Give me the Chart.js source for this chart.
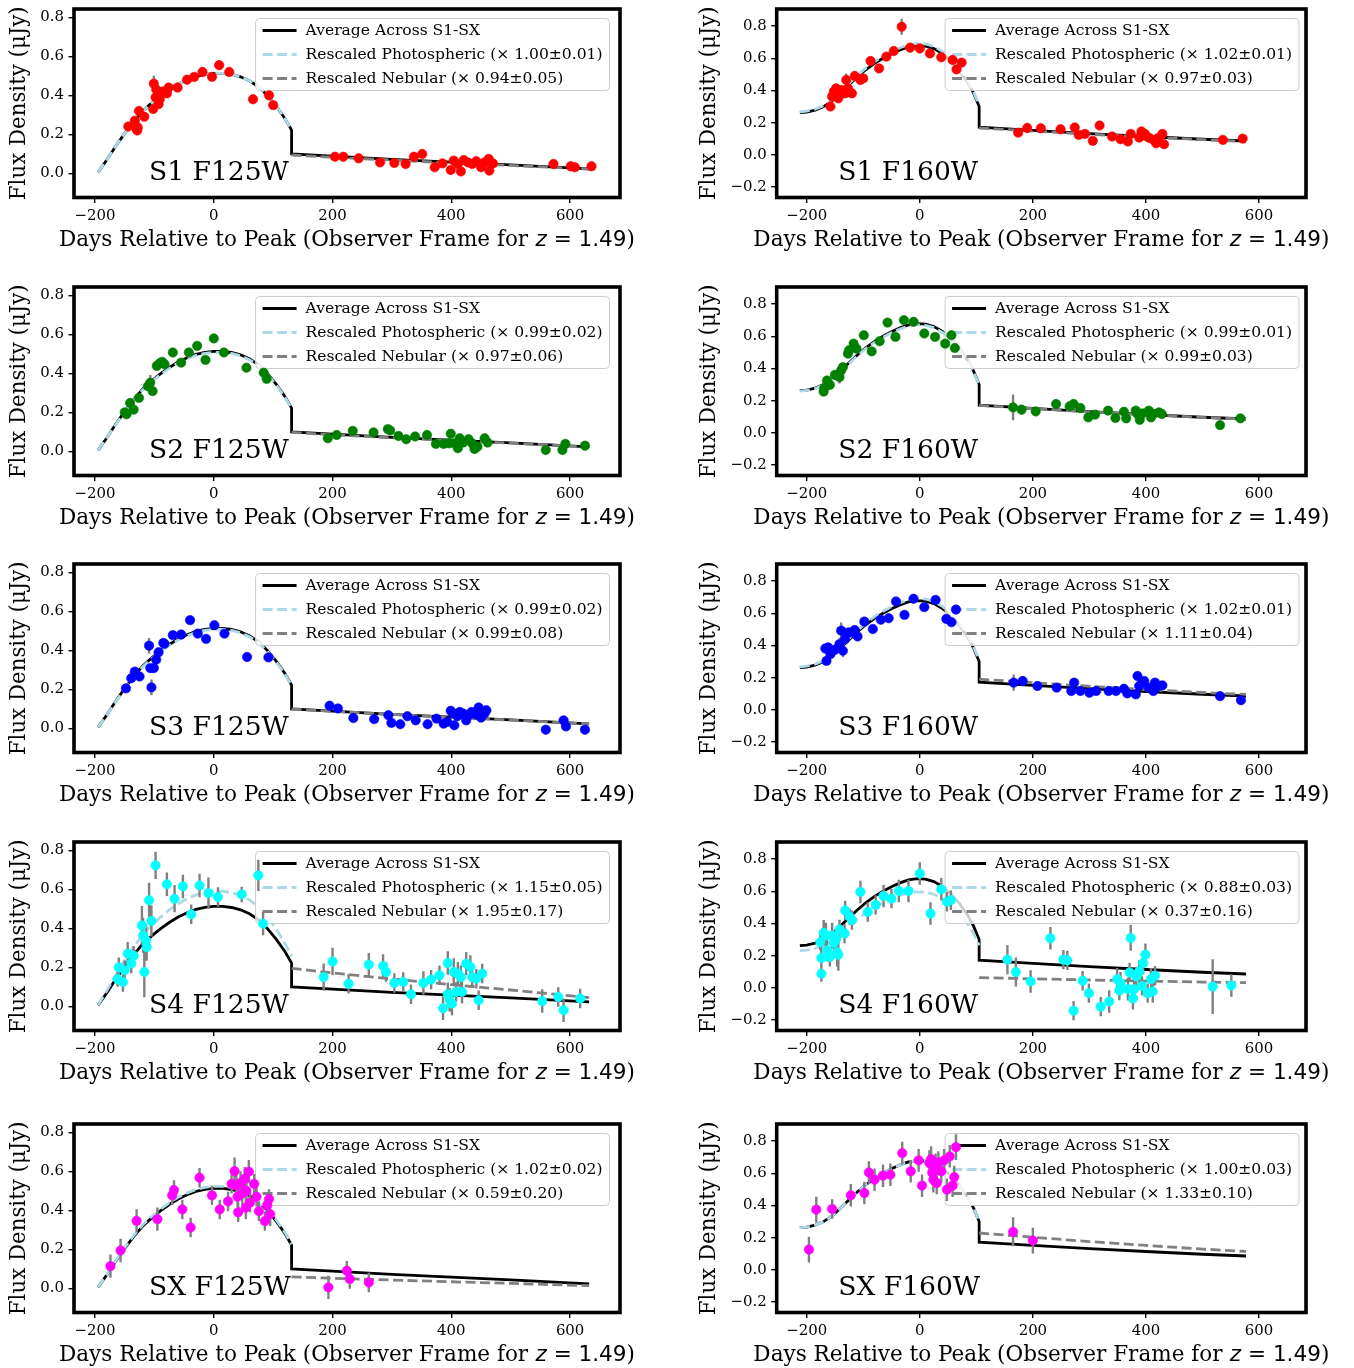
<!DOCTYPE html>
<html>
<head>
<meta charset="utf-8">
<script src="https://cdn.jsdelivr.net/npm/chart.js@4.4.0/dist/chart.umd.min.js"></script>
<style>
  html, body { margin: 0; padding: 0; background: #fff; }
  body { width: 1354px; height: 1368px; position: relative; overflow: hidden; }
  canvas { position: absolute; }
</style>
</head>
<body>
<script>
// ---- average light curves (black line), photospheric and nebular parts
const photDays125 = [-195, -180, -165, -150, -135, -120, -105, -90, -75, -60, -45, -30, -15, 0, 15, 30, 45, 60, 75, 90, 105, 120, 131];
const photFlux125 = [0.005, 0.07, 0.14, 0.205, 0.265, 0.318, 0.36, 0.397, 0.43, 0.458, 0.48, 0.497, 0.508, 0.513, 0.513, 0.507, 0.495, 0.475, 0.445, 0.40, 0.345, 0.28, 0.222];
const nebDays125 = [131, 200, 300, 400, 500, 632];
const nebFlux125 = [0.10, 0.088, 0.072, 0.057, 0.043, 0.023];

const photDays160 = [-212, -200, -185, -170, -155, -140, -125, -110, -95, -80, -65, -50, -35, -20, -5, 10, 25, 40, 55, 70, 85, 95, 105];
const photFlux160 = [0.262, 0.266, 0.278, 0.30, 0.335, 0.385, 0.435, 0.485, 0.53, 0.568, 0.60, 0.628, 0.652, 0.67, 0.678, 0.675, 0.66, 0.63, 0.585, 0.525, 0.45, 0.385, 0.30];
const nebDays160 = [105, 200, 300, 400, 500, 577];
const nebFlux160 = [0.172, 0.152, 0.132, 0.114, 0.097, 0.086];

// ---- panels (row-major: F125W left, F160W right)
const panelNames = ['S1 F125W', 'S1 F160W', 'S2 F125W', 'S2 F160W', 'S3 F125W', 'S3 F160W', 'S4 F125W', 'S4 F160W', 'SX F125W', 'SX F160W'];
const pointColors = ['#ff0000', '#ff0000', '#008000', '#008000', '#0000ff', '#0000ff', '#00ffff', '#00ffff', '#ff00ff', '#ff00ff'];
const photScale = [1.00, 1.02, 0.99, 0.99, 0.99, 1.02, 1.15, 0.88, 1.02, 1.00];
const photScaleErr = [0.01, 0.01, 0.02, 0.01, 0.02, 0.01, 0.05, 0.03, 0.02, 0.03];
const nebScale = [0.94, 0.97, 0.97, 0.99, 0.99, 1.11, 1.95, 0.37, 0.59, 1.33];
const nebScaleErr = [0.05, 0.03, 0.06, 0.03, 0.08, 0.04, 0.17, 0.16, 0.20, 0.10];

const xTicks = [-200, 0, 200, 400, 600];
const yTicks125 = [0, 0.2, 0.4, 0.6, 0.8];
const yTicks160 = [-0.2, 0, 0.2, 0.4, 0.6, 0.8];

// ---- observed photometry: days, flux, 1-sigma error
const s1f125Days = [-144, -133, -130, -129, -128, -126, -117, -102, -101, -98, -97, -93, -91, -86, -79, -76, -61, -45, -33, -19, -3, 9, 26, 66, 93, 100,
  204, 218, 244, 280, 304, 323, 337, 351, 372, 385, 399, 404, 411, 416, 421, 428, 435, 442, 450, 456, 463, 464, 470, 572, 601, 608, 636];
const s1f125Flux = [0.24, 0.27, 0.227, 0.22, 0.235, 0.32, 0.29, 0.33, 0.46, 0.39, 0.43, 0.355, 0.38, 0.42, 0.41, 0.44, 0.44, 0.48, 0.495, 0.52, 0.495, 0.555, 0.52, 0.38, 0.40, 0.35,
  0.085, 0.085, 0.077, 0.056, 0.053, 0.048, 0.085, 0.099, 0.031, 0.051, 0.017, 0.065, 0.048, 0.01, 0.068, 0.056, 0.048, 0.062, 0.031, 0.056, 0.074, 0.014, 0.051, 0.048, 0.036, 0.031, 0.036];
const s1f125Err = [0.02, 0.02, 0.02, 0.02, 0.03, 0.02, 0.02, 0.02, 0.04, 0.02, 0.02, 0.02, 0.02, 0.02, 0.02, 0.02, 0.02, 0.02, 0.02, 0.025, 0.02, 0.025, 0.02, 0.02, 0.02, 0.02,
  0.02, 0.02, 0.015, 0.015, 0.015, 0.015, 0.015, 0.015, 0.015, 0.015, 0.02, 0.02, 0.02, 0.025, 0.02, 0.015, 0.015, 0.02, 0.015, 0.015, 0.015, 0.02, 0.015, 0.02, 0.015, 0.015, 0.015];

const s2f125Days = [-150, -147, -141, -135, -126, -111, -107, -103, -96, -91, -87, -83, -69, -55, -42, -28, -14, 0, 17, 55, 84, 89,
  192, 207, 234, 269, 293, 297, 311, 324, 339, 359, 374, 387, 396, 399, 405, 411, 414, 420, 429, 435, 439, 444, 456, 461, 559, 587, 592, 625];
const s2f125Flux = [0.2, 0.19, 0.248, 0.214, 0.274, 0.334, 0.352, 0.309, 0.438, 0.452, 0.459, 0.447, 0.507, 0.455, 0.507, 0.541, 0.469, 0.579, 0.507, 0.429, 0.403, 0.372,
  0.067, 0.084, 0.105, 0.097, 0.114, 0.107, 0.079, 0.062, 0.076, 0.084, 0.038, 0.038, 0.041, 0.09, 0.041, 0.016, 0.067, 0.045, 0.062, 0.041, 0.012, 0.024, 0.067, 0.045, 0.007, 0.007, 0.038, 0.029];
const s2f125Err = [0.015, 0.015, 0.015, 0.015, 0.015, 0.02, 0.04, 0.02, 0.015, 0.015, 0.015, 0.015, 0.015, 0.015, 0.015, 0.015, 0.015, 0.02, 0.015, 0.015, 0.015, 0.015,
  0.012, 0.012, 0.012, 0.012, 0.012, 0.012, 0.012, 0.012, 0.012, 0.012, 0.012, 0.012, 0.012, 0.012, 0.012, 0.012, 0.012, 0.012, 0.012, 0.012, 0.012, 0.012, 0.012, 0.012, 0.012, 0.012, 0.012, 0.012];

const s3f125Days = [-148, -139, -133, -125, -109, -107, -105, -101, -97, -93, -85, -83, -69, -55, -40, -27, -13, 1, 18, 56, 92,
  195, 209, 235, 270, 294, 299, 314, 326, 340, 360, 375, 387, 393, 399, 402, 405, 410, 414, 420, 425, 429, 434, 441, 446, 450, 456, 459, 559, 589, 593, 625];
const s3f125Flux = [0.205, 0.257, 0.291, 0.266, 0.424, 0.309, 0.21, 0.309, 0.352, 0.39, 0.438, 0.434, 0.478, 0.481, 0.555, 0.486, 0.459, 0.529, 0.486, 0.366, 0.364,
  0.116, 0.102, 0.053, 0.047, 0.067, 0.028, 0.021, 0.062, 0.041, 0.021, 0.05, 0.024, 0.033, 0.09, 0.079, 0.016, 0.062, 0.084, 0.076, 0.041, 0.067, 0.084, 0.072, 0.107, 0.055, 0.076, 0.093, -0.007, 0.041, 0.01, -0.007];
const s3f125Err = [0.015, 0.015, 0.015, 0.015, 0.04, 0.02, 0.04, 0.02, 0.015, 0.015, 0.015, 0.015, 0.015, 0.015, 0.015, 0.015, 0.015, 0.02, 0.02, 0.015, 0.015,
  0.012, 0.012, 0.012, 0.012, 0.012, 0.012, 0.012, 0.012, 0.012, 0.012, 0.012, 0.012, 0.012, 0.012, 0.012, 0.012, 0.012, 0.012, 0.012, 0.012, 0.012, 0.012, 0.012, 0.012, 0.012, 0.012, 0.012, 0.012, 0.012, 0.012, 0.012];

const s4f125Days = [-162, -160, -153, -150, -145, -139, -135, -121, -119, -117, -114, -113, -109, -105, -98, -79, -66, -52, -38, -24, -9, 7, 47, 75, 83,
  185, 200, 227, 261, 285, 290, 304, 319, 332, 353, 366, 380, 386, 394, 394, 397, 401, 404, 408, 411, 416, 418, 425, 432, 435, 442, 446, 452, 553, 580, 589, 617];
const s4f125Flux = [0.14, 0.2, 0.125, 0.185, 0.27, 0.22, 0.26, 0.415, 0.364, 0.176, 0.338, 0.304, 0.544, 0.438, 0.723, 0.626, 0.552, 0.615, 0.472, 0.62, 0.581, 0.561, 0.574, 0.672, 0.424,
  0.15, 0.23, 0.116, 0.214, 0.207, 0.176, 0.12, 0.125, 0.062, 0.12, 0.137, 0.159, -0.01, 0.222, 0.062, 0.034, 0.014, 0.176, 0.074, 0.168, 0.15, 0.074, 0.219, 0.202, 0.15, 0.142, 0.031, 0.168, 0.027, 0.048, -0.02, 0.04];
const s4f125Err = [0.04, 0.05, 0.05, 0.05, 0.06, 0.05, 0.05, 0.1, 0.09, 0.13, 0.08, 0.07, 0.09, 0.08, 0.07, 0.06, 0.07, 0.06, 0.05, 0.06, 0.08, 0.05, 0.04, 0.08, 0.06,
  0.07, 0.07, 0.05, 0.06, 0.06, 0.05, 0.05, 0.05, 0.05, 0.06, 0.05, 0.05, 0.06, 0.06, 0.06, 0.06, 0.06, 0.07, 0.05, 0.06, 0.06, 0.06, 0.06, 0.06, 0.05, 0.05, 0.05, 0.05, 0.06, 0.05, 0.06, 0.05];

const sxf125Days = [-174, -157, -130, -95, -70, -67, -53, -39, -24, -3, 10, 24, 30, 35, 38, 40, 41, 45, 48, 52, 54, 55, 59, 61, 68, 72, 76, 86, 90, 93, 95,
  193, 224, 229, 261];
const sxf125Flux = [0.114, 0.194, 0.346, 0.355, 0.477, 0.504, 0.405, 0.312, 0.567, 0.477, 0.405, 0.446, 0.536, 0.601, 0.528, 0.47, 0.39, 0.54, 0.487, 0.562, 0.414, 0.5, 0.598, 0.44, 0.536, 0.47, 0.396, 0.345, 0.428, 0.458, 0.38,
  0.005, 0.09, 0.048, 0.03];
const sxf125Err = [0.06, 0.06, 0.06, 0.06, 0.05, 0.05, 0.05, 0.05, 0.05, 0.05, 0.05, 0.05, 0.05, 0.07, 0.07, 0.05, 0.05, 0.06, 0.06, 0.06, 0.06, 0.06, 0.06, 0.05, 0.05, 0.05, 0.05, 0.05, 0.05, 0.05, 0.06,
  0.06, 0.05, 0.05, 0.05];

const s1f160Days = [-158, -155, -152, -148, -144, -139, -132, -130, -127, -120, -115, -105, -100, -87, -72, -59, -46, -32, -17, 0, 18, 38, 58, 65, 74,
  174, 190, 214, 249, 274, 281, 292, 306, 318, 340, 355, 368, 373, 388, 392, 398, 401, 407, 414, 418, 421, 429, 432, 536, 571];
const s1f160Flux = [0.3, 0.362, 0.393, 0.413, 0.351, 0.403, 0.382, 0.465, 0.413, 0.382, 0.49, 0.465, 0.475, 0.583, 0.537, 0.61, 0.645, 0.796, 0.666, 0.661, 0.63, 0.606, 0.589, 0.531, 0.573,
  0.138, 0.167, 0.165, 0.159, 0.17, 0.124, 0.13, 0.087, 0.182, 0.114, 0.097, 0.083, 0.13, 0.107, 0.145, 0.13, 0.114, 0.103, 0.093, 0.072, 0.103, 0.13, 0.066, 0.093, 0.101];
const s1f160Err = [0.02, 0.02, 0.02, 0.02, 0.02, 0.02, 0.02, 0.04, 0.03, 0.02, 0.03, 0.02, 0.02, 0.025, 0.025, 0.02, 0.02, 0.05, 0.03, 0.03, 0.02, 0.02, 0.02, 0.02, 0.02,
  0.015, 0.03, 0.02, 0.02, 0.015, 0.015, 0.015, 0.015, 0.015, 0.015, 0.015, 0.015, 0.02, 0.015, 0.03, 0.015, 0.015, 0.015, 0.015, 0.015, 0.015, 0.02, 0.015, 0.015, 0.015];

const s2f160Days = [-170, -169, -164, -159, -150, -142, -139, -136, -127, -125, -117, -112, -99, -85, -71, -57, -43, -28, -11, 8, 27, 45, 56, 62,
  165, 180, 205, 241, 265, 272, 284, 298, 310, 333, 346, 361, 365, 382, 385, 389, 394, 405, 409, 413, 423, 428, 531, 567];
const s2f160Flux = [0.256, 0.277, 0.325, 0.298, 0.36, 0.346, 0.388, 0.408, 0.492, 0.513, 0.554, 0.523, 0.606, 0.506, 0.569, 0.685, 0.596, 0.7, 0.69, 0.617, 0.596, 0.554, 0.606, 0.527,
  0.158, 0.144, 0.133, 0.179, 0.165, 0.179, 0.154, 0.096, 0.113, 0.138, 0.092, 0.131, 0.09, 0.138, 0.117, 0.081, 0.121, 0.138, 0.096, 0.117, 0.127, 0.117, 0.048, 0.09];
const s2f160Err = [0.02, 0.02, 0.02, 0.02, 0.03, 0.04, 0.03, 0.02, 0.02, 0.02, 0.02, 0.02, 0.02, 0.02, 0.02, 0.025, 0.02, 0.025, 0.02, 0.02, 0.02, 0.02, 0.02, 0.02,
  0.08, 0.03, 0.02, 0.015, 0.015, 0.015, 0.015, 0.015, 0.015, 0.015, 0.015, 0.015, 0.015, 0.015, 0.015, 0.015, 0.015, 0.015, 0.015, 0.015, 0.015, 0.015, 0.015, 0.015];

const s3f160Days = [-167, -165, -162, -158, -150, -142, -139, -136, -132, -126, -121, -115, -110, -98, -83, -69, -55, -42, -27, -11, 8, 28, 47, 56, 64,
  166, 182, 208, 242, 268, 273, 284, 300, 312, 334, 347, 361, 367, 382, 385, 388, 394, 397, 405, 413, 416, 420, 429, 531, 568];
const s3f160Flux = [0.381, 0.304, 0.388, 0.346, 0.373, 0.408, 0.492, 0.367, 0.44, 0.481, 0.481, 0.496, 0.456, 0.548, 0.502, 0.56, 0.569, 0.673, 0.59, 0.69, 0.638, 0.683, 0.565, 0.544, 0.623,
  0.169, 0.179, 0.148, 0.138, 0.117, 0.169, 0.117, 0.106, 0.117, 0.117, 0.117, 0.131, 0.102, 0.096, 0.21, 0.148, 0.169, 0.179, 0.138, 0.117, 0.169, 0.144, 0.152, 0.085, 0.06];
const s3f160Err = [0.02, 0.02, 0.02, 0.02, 0.03, 0.04, 0.05, 0.04, 0.03, 0.02, 0.02, 0.02, 0.02, 0.03, 0.02, 0.02, 0.02, 0.02, 0.025, 0.025, 0.02, 0.02, 0.02, 0.02, 0.02,
  0.05, 0.03, 0.02, 0.015, 0.015, 0.015, 0.015, 0.015, 0.015, 0.015, 0.015, 0.015, 0.015, 0.015, 0.02, 0.015, 0.015, 0.02, 0.015, 0.015, 0.015, 0.015, 0.015, 0.03, 0.015];

const s4f160Days = [-176, -174, -174, -170, -166, -164, -159, -155, -152, -148, -146, -144, -142, -133, -132, -124, -120, -105, -92, -78, -64, -50, -37, -20, 0, 19, 38, 48, 55,
  155, 170, 196, 231, 254, 261, 272, 288, 299, 320, 335, 349, 353, 355, 368, 371, 373, 377, 379, 383, 388, 393, 395, 399, 403, 409, 412, 416, 518, 551];
const s4f160Flux = [0.283, 0.185, 0.0875, 0.342, 0.325, 0.233, 0.192, 0.325, 0.279, 0.304, 0.221, 0.206, 0.363, 0.337, 0.481, 0.442, 0.421, 0.596, 0.471, 0.515, 0.571, 0.554, 0.602, 0.602, 0.71, 0.462, 0.612, 0.535, 0.544,
  0.175, 0.098, 0.04, 0.308, 0.175, 0.171, -0.142, 0.044, -0.033, -0.117, -0.085, 0.054, -0.017, 0.029, -0.008, 0.096, 0.31, -0.065, -0.008, 0.071, 0.102, 0.0125, 0.154, 0.206, -0.033, 0.054, -0.023, 0.075, 0.008, 0.015];
const s4f160Err = [0.05, 0.07, 0.05, 0.08, 0.08, 0.07, 0.06, 0.08, 0.07, 0.07, 0.09, 0.1, 0.06, 0.06, 0.06, 0.05, 0.06, 0.07, 0.06, 0.06, 0.07, 0.06, 0.07, 0.07, 0.07, 0.07, 0.07, 0.06, 0.06,
  0.09, 0.09, 0.07, 0.07, 0.06, 0.06, 0.06, 0.06, 0.06, 0.06, 0.07, 0.07, 0.06, 0.07, 0.07, 0.06, 0.08, 0.07, 0.07, 0.06, 0.07, 0.06, 0.07, 0.07, 0.06, 0.07, 0.07, 0.06, 0.17, 0.07];

const sxf160Days = [-196, -183, -155, -122, -98, -90, -80, -65, -52, -31, -16, -2, 4, 17, 20, 22, 24, 28, 30, 33, 38, 43, 48, 53, 58, 61, 64,
  165, 200];
const sxf160Flux = [0.126, 0.374, 0.378, 0.463, 0.477, 0.605, 0.56, 0.585, 0.591, 0.725, 0.612, 0.68, 0.523, 0.663, 0.688, 0.605, 0.56, 0.653, 0.539, 0.667, 0.612, 0.68, 0.498, 0.705, 0.523, 0.576, 0.762,
  0.236, 0.182];
const sxf160Err = [0.08, 0.08, 0.06, 0.07, 0.07, 0.07, 0.07, 0.07, 0.07, 0.07, 0.07, 0.07, 0.07, 0.08, 0.08, 0.08, 0.08, 0.07, 0.07, 0.07, 0.07, 0.07, 0.07, 0.07, 0.07, 0.07, 0.08,
  0.09, 0.08];

const obsDays = [s1f125Days, s1f160Days, s2f125Days, s2f160Days, s3f125Days, s3f160Days, s4f125Days, s4f160Days, sxf125Days, sxf160Days];
const obsFlux = [s1f125Flux, s1f160Flux, s2f125Flux, s2f160Flux, s3f125Flux, s3f160Flux, s4f125Flux, s4f160Flux, sxf125Flux, sxf160Flux];
const obsErr = [s1f125Err, s1f160Err, s2f125Err, s2f160Err, s3f125Err, s3f160Err, s4f125Err, s4f160Err, sxf125Err, sxf160Err];

// ---- fonts, sized so the text spans what it spans in the figure
const SERIF = "'DejaVu Serif', serif";
const SANS = "'DejaVu Sans', sans-serif";
const mctx = document.createElement('canvas').getContext('2d');
function fitSize(text, target, family, style) {
  mctx.font = (style || '') + ' 100px ' + family;
  return 100 * target / mctx.measureText(text).width;
}
const tickSize = fitSize('\u2212200', 41, SERIF);
const yTitleSize = fitSize('Flux Density (\u03bcJy)', 194, SERIF);
const legendSize = fitSize('Rescaled Photospheric (\u00d7 1.00\u00b10.01)', 297, SERIF);
const tagSize = fitSize('S1 F125W', 140, SERIF);

const xLabelParts = [
  {t: 'Days Relative to Peak (Observer Frame for ', fam: SERIF, st: ''},
  {t: 'z', fam: SANS, st: 'italic'},
  {t: ' = 1.49', fam: SANS, st: ''},
  {t: ')', fam: SERIF, st: ''}
];
let xLabelW100 = 0;
xLabelParts.forEach(p => { mctx.font = p.st + ' 100px ' + p.fam; p.w = mctx.measureText(p.t).width; xLabelW100 += p.w; });
const xLabelScale = 576 / xLabelW100;

function drawXLabel(ctx, cx, cy) {
  let x = cx - 288;
  ctx.textAlign = 'left';
  ctx.textBaseline = 'middle';
  xLabelParts.forEach(p => {
    ctx.font = p.st + ' ' + (100 * xLabelScale) + 'px ' + p.fam;
    ctx.fillText(p.t, x, cy);
    x += p.w * xLabelScale;
  });
}

function drawLegend(chart, gapRight) {
  const ctx = chart.ctx, ca = chart.chartArea;
  const items = [4, 3, 2].map(i => chart.data.datasets[i]);
  ctx.save();
  ctx.font = legendSize + 'px ' + SERIF;
  const textW = Math.max(...items.map(d => ctx.measureText(d.label).width));
  const w = 7 + 34 + 9 + textW + 7, h = 72;
  const x0 = ca.right - gapRight - w, y0 = ca.top + 9.5;
  ctx.beginPath();
  ctx.roundRect(x0, y0, w, h, 4);
  ctx.fillStyle = 'rgba(255,255,255,0.8)';
  ctx.fill();
  ctx.strokeStyle = '#cccccc';
  ctx.lineWidth = 1;
  ctx.stroke();
  items.forEach((d, j) => {
    const cy = y0 + 12 + 24 * j;
    ctx.strokeStyle = d.borderColor;
    ctx.lineWidth = d.borderWidth;
    ctx.setLineDash(d.borderDash || []);
    ctx.beginPath();
    ctx.moveTo(x0 + 7, cy);
    ctx.lineTo(x0 + 41, cy);
    ctx.stroke();
    ctx.setLineDash([]);
    ctx.fillStyle = '#000';
    ctx.textAlign = 'left';
    ctx.textBaseline = 'middle';
    ctx.fillText(d.label, x0 + 50, cy);
  });
  ctx.restore();
}

const panelDecor = {
  id: 'panelDecor',
  beforeDatasetDraw(chart, args, opts) {
    if (args.index === 1) drawLegend(chart, opts.legendGap);   // legend sits above the curves, below the data
  },
  afterDraw(chart, args, opts) {
    const ctx = chart.ctx, ca = chart.chartArea;
    ctx.save();
    ctx.strokeStyle = '#000';
    ctx.lineWidth = 3.6;
    ctx.strokeRect(ca.left, ca.top, ca.right - ca.left, ca.bottom - ca.top);
    ctx.fillStyle = '#000';
    ctx.font = tagSize + 'px ' + SERIF;
    ctx.textAlign = 'left';
    ctx.textBaseline = 'alphabetic';
    ctx.fillText(opts.tag, ca.left + opts.tagDx, ca.bottom - 18);
    drawXLabel(ctx, (ca.left + ca.right) / 2, ca.bottom + 43);
    ctx.restore();
  }
};

const fmt = (v, digits) => (v < 0 ? '\u2212' : '') + Math.abs(v).toFixed(digits);

const rowTop = [0, 278, 555, 833, 1115];
const columns = [
  {x: 0, width: 640, left: 74, right: 620, xMin: -235.4, xMax: 684, yMin: -0.124, yMax: 0.843, yTicks: yTicks125, tagDx: 75, legendGap: 10.5,
   photDays: photDays125, photFlux: photFlux125, nebDays: nebDays125, nebFlux: nebFlux125},
  {x: 690, width: 664, left: 86.7, right: 616, xMin: -253, xMax: 683, yMin: -0.265, yMax: 0.906, yTicks: yTicks160, tagDx: 61.5, legendGap: 7,
   photDays: photDays160, photFlux: photFlux160, nebDays: nebDays160, nebFlux: nebFlux160}
];
const AREA_TOP = 9, AREA_BOTTOM = 197.5;

function makePanel(k) {
  const col = columns[k % 2];
  const row = Math.floor(k / 2);
  const H = row === 4 ? 253 : 278;
  const canvas = document.createElement('canvas');
  canvas.width = col.width;
  canvas.height = H;
  canvas.style.left = col.x + 'px';
  canvas.style.top = rowTop[row] + 'px';
  canvas.style.width = col.width + 'px';
  canvas.style.height = H + 'px';
  document.body.appendChild(canvas);

  const days = obsDays[k], flux = obsFlux[k], err = obsErr[k];
  const points = days.map((d, i) => ({x: d, y: flux[i]}));
  const bars = [];
  days.forEach((d, i) => {
    bars.push({x: d, y: flux[i] - err[i]}, {x: d, y: flux[i] + err[i]}, {x: d, y: null});
  });
  const avg = col.photDays.map((d, i) => ({x: d, y: col.photFlux[i]}))
    .concat(col.nebDays.map((d, i) => ({x: d, y: col.nebFlux[i]})));
  const phot = col.photDays.map((d, i) => ({x: d, y: col.photFlux[i] * photScale[k]}));
  const neb = col.nebDays.map((d, i) => ({x: d, y: col.nebFlux[i] * nebScale[k]}));

  const lineDs = (label, data, color, dash, order) => ({
    label, data, order, showLine: true, borderColor: color, backgroundColor: color,
    borderWidth: 2.8, borderDash: dash, pointRadius: 0, tension: 0
  });

  new Chart(canvas, {
    type: 'scatter',
    data: {
      datasets: [
        {label: 'data', data: points, order: 0, pointRadius: 4.7, pointBorderWidth: 0.6,
         backgroundColor: pointColors[k], borderColor: pointColors[k], showLine: false},
        {label: 'errors', data: bars, order: 1, showLine: true, spanGaps: false,
         borderColor: '#808080', borderWidth: 2.4, pointRadius: 0},
        lineDs('Rescaled Nebular (\u00d7 ' + nebScale[k].toFixed(2) + '\u00b1' + nebScaleErr[k].toFixed(2) + ')', neb, '#808080', [10, 4.5], 2),
        lineDs('Rescaled Photospheric (\u00d7 ' + photScale[k].toFixed(2) + '\u00b1' + photScaleErr[k].toFixed(2) + ')', phot, '#add8e6', [10, 4.5], 3),
        lineDs('Average Across S1-SX', avg, '#000000', [], 4)
      ]
    },
    options: {
      responsive: false,
      animation: false,
      devicePixelRatio: 1,
      events: [],
      layout: {autoPadding: false, padding: {left: 0, top: AREA_TOP, right: col.width - col.right, bottom: 0}},
      plugins: {
        legend: {display: false},
        tooltip: {enabled: false},
        panelDecor: {tag: panelNames[k], tagDx: col.tagDx, legendGap: col.legendGap}
      },
      scales: {
        x: {
          type: 'linear', min: col.xMin, max: col.xMax,
          afterBuildTicks: s => { s.ticks = xTicks.map(v => ({value: v})); },
          afterFit: s => { s.height = H - AREA_BOTTOM; s.paddingLeft = 0; s.paddingRight = 0; },
          grid: {drawOnChartArea: false, drawTicks: true, tickLength: 5.5, tickWidth: 1.4, tickColor: '#000', color: '#000', lineWidth: 1.4},
          border: {display: false},
          ticks: {font: {family: SERIF, size: tickSize}, color: '#000', padding: 4.5, maxRotation: 0, autoSkip: false,
                  callback: v => fmt(v, 0)}
        },
        y: {
          type: 'linear', min: col.yMin, max: col.yMax,
          afterBuildTicks: s => { s.ticks = col.yTicks.map(v => ({value: v})); },
          afterFit: s => { s.width = col.left; s.paddingTop = 0; s.paddingBottom = 0; },
          grid: {drawOnChartArea: false, drawTicks: true, tickLength: 5.5, tickWidth: 1.4, tickColor: '#000', color: '#000', lineWidth: 1.4},
          border: {display: false},
          ticks: {font: {family: SERIF, size: tickSize}, color: '#000', padding: 4.5, autoSkip: false,
                  callback: v => fmt(v, 1)},
          title: {display: true, text: 'Flux Density (\u03bcJy)', color: '#000',
                  font: {family: SERIF, size: yTitleSize}, padding: {top: 7, bottom: 0}}
        }
      }
    },
    plugins: [panelDecor]
  });
}

for (let k = 0; k < 10; k++) makePanel(k);
</script>
</body>
</html>
